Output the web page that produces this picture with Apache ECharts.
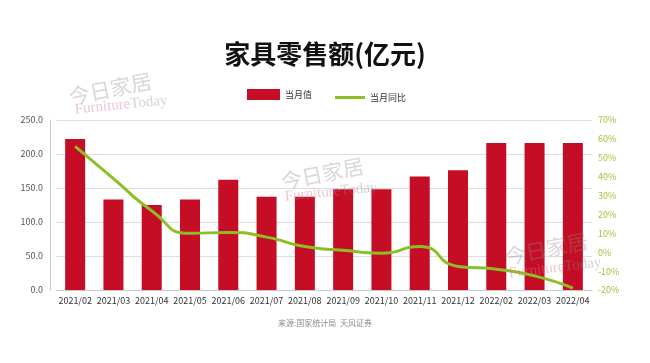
<!DOCTYPE html>
<html>
<head>
<meta charset="utf-8">
<script src="https://cdn.jsdelivr.net/npm/echarts@6/dist/echarts.min.js"></script>
<style>
html,body{margin:0;padding:0;background:#fff;}
#main{width:650px;height:363px;}
</style>
</head>
<body>
<div id="main"></div>
<script>
var categories = ['2021/02','2021/03','2021/04','2021/05','2021/06','2021/07','2021/08','2021/09','2021/10','2021/11','2021/12','2022/02','2022/03','2022/04'];
var monthValue = [222,133,125,133,162,137,137,148,148,167,176,216,216,216];
var monthYoY = [56,39,22,10,10.5,8,3,1,-0.5,3,-7.5,-9,-12.5,-19];
var leftTicks = {min:0, max:250, interval:50};
var rightTicks = {min:-20, max:70, interval:10};

var FONT = '"Noto Sans CJK SC","Noto Sans",sans-serif';
var chart = echarts.init(document.getElementById('main'), null, {renderer:'canvas'});

function wm(x, y, rot1, rot2, dx2, dy2) {
  return [
    {type:'text', left:x-50, top:y-13, rotation:rot1, z:100, silent:true,
     style:{text:'今日家居', font:'21px ' + FONT, fill:'rgba(140,140,140,0.35)', letterSpacing:3}},
    {type:'text', left:x-45+dx2, top:y+8+dy2, rotation:rot2, z:100, silent:true,
     style:{text:'{a|Furniture}{b|Today}', rich:{
       a:{font:'15px "Liberation Serif",serif', fill:'rgba(215,120,135,0.42)'},
       b:{font:'15px "Liberation Serif",serif', fill:'rgba(140,140,140,0.38)'}}}}
  ];
}

var graphics = [].concat(
  wm(117, 83, 0.2, 0.1, 2, 2),
  wm(329, 168, 0.2, 0.1, 0, 4),
  wm(553, 243, 0.2, 0.12, 0, 4),
  [{type:'text', left:'center', top:319, z:50, style:{text:'来源:国家统计局  天风证券', font:'8px ' + FONT, fill:'#8a8a8a'}}]
);

chart.setOption({
  backgroundColor:'#fff',
  animation:false,
  title:{text:'家具零售额(亿元)', left:'center', top:36,
    textStyle:{fontFamily:FONT, fontSize:26, fontWeight:'bold', color:'#111'}},
  legend:[
    {data:[{name:'当月值', icon:'rect'}], left:242, top:84, itemWidth:33, itemHeight:11,
      textStyle:{fontFamily:FONT, fontSize:9, color:'#333'}},
    {data:[{name:'当月同比', icon:'rect'}], left:330, top:88, itemWidth:30, itemHeight:3,
      textStyle:{fontFamily:FONT, fontSize:9, color:'#333'}}
  ],
  grid:{left:56, right:58, top:120, bottom:73},
  xAxis:{type:'category', data:categories,
    axisLine:{show:true, lineStyle:{color:'#c8c8c8'}},
    axisTick:{show:false},
    axisLabel:{interval:0, fontFamily:FONT, fontSize:9, color:'#333', margin:6}},
  yAxis:[
    {type:'value', min:leftTicks.min, max:leftTicks.max, interval:leftTicks.interval, offset:6,
      axisLine:{show:true, lineStyle:{color:'#c8c8c8'}},
      axisTick:{show:false},
      splitLine:{lineStyle:{color:'#dedede'}},
      axisLabel:{fontFamily:FONT, fontSize:9, color:'#555', margin:7,
        formatter:function(v){return v.toFixed(1);}}},
    {type:'value', min:rightTicks.min, max:rightTicks.max, interval:rightTicks.interval, position:'right',
      axisLine:{show:false}, axisTick:{show:false}, splitLine:{show:false},
      axisLabel:{fontFamily:FONT, fontSize:9, color:'#9bc43c', margin:6,
        formatter:function(v){return v + '%';}}}
  ],
  series:[
    {name:'当月值', type:'bar', data:monthValue, barWidth:20, yAxisIndex:0,
      itemStyle:{color:'#c50d26'}},
    {name:'当月同比', type:'line', data:monthYoY, yAxisIndex:1, smooth:0.6,
      symbol:'none', lineStyle:{color:'#8cbf26', width:3}, itemStyle:{color:'#8cbf26'}}
  ],
  graphic:graphics
});
</script>
</body>
</html>
